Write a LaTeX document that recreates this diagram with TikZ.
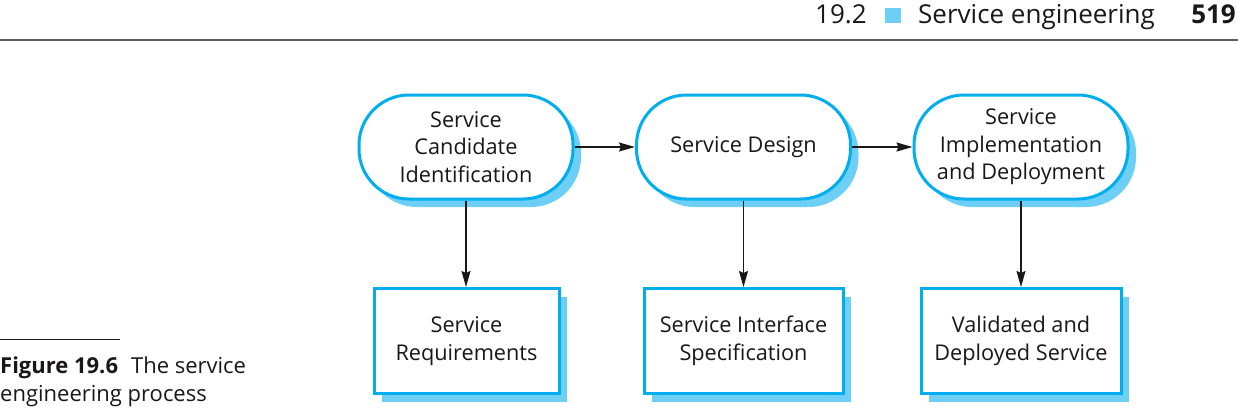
\documentclass[tikz,border=0pt]{standalone}
\usepackage{fontspec}
\setmainfont{Open Sans}
\usetikzlibrary{arrows.meta,shadows}
\definecolor{bordblue}{HTML}{00AEEF}
\definecolor{shadblue}{HTML}{6DCFF6}
\definecolor{ink}{HTML}{1A1718}
\definecolor{rulegray}{HTML}{5A5A5A}
\tikzset{
  x=1pt, y=-1pt,
  nodetext/.style={font=\fontsize{21.7}{27.5}\selectfont, text=ink, align=center, inner sep=0pt},
  stadium/.style={nodetext, draw=bordblue, line width=3pt, fill=white, rounded corners=50pt,
    minimum width=214pt, minimum height=104pt,
    drop shadow={shadow xshift=8pt, shadow yshift=-8pt, fill=shadblue, opacity=1}},
  docbox/.style={nodetext, draw=bordblue, line width=3pt, fill=white,
    minimum height=105pt,
    drop shadow={shadow xshift=8pt, shadow yshift=-8pt, fill=shadblue, opacity=1}},
  arr/.style={draw=ink, line width=1.4pt, -{Stealth[length=16pt,width=9pt,inset=2pt]}},
  hdr/.style={font=\fontsize{26}{30}\selectfont, text=ink, inner sep=0pt},
  captext/.style={font=\fontsize{22}{28}\selectfont, text=ink, inner sep=0pt}
}
\begin{document}
\begin{tikzpicture}
\useasboundingbox (0,0) rectangle (1238,410);
% header
\node[hdr, anchor=base west] (h1) at (815,23) {19.2};
\node[fill=shadblue, minimum width=16pt, minimum height=15pt, inner sep=0pt] (hsq) at (893,15) {};
\node[hdr, anchor=base west] (h2) at (918,23) {Service engineering};
\node[hdr, anchor=base east, font=\fontsize{26}{30}\selectfont\bfseries] (h3) at (1236,23) {519};
\coordinate (rl) at (0,40);
\coordinate (rr) at (1238,40);
\draw[rulegray, line width=2pt] (rl) -- (rr);
% caption
\coordinate (cl) at (0,339);
\coordinate (cr) at (120,339);
\draw[ink, line width=1pt] (cl) -- (cr);
\node[captext, anchor=base west] (c1) at (0,373) {\textbf{Figure 19.6}\hspace{13pt}The service};
\node[captext, anchor=base west] (c2) at (0,401) {engineering process};
% process nodes
\node[stadium] (n1) at (466,147) {Service\\Candidate\\Identification};
\node[stadium] (n2) at (743.5,147) {Service Design};
\node[stadium] (n3) at (1021,147) {Service\\Implementation\\and Deployment};
% outputs
\node[docbox, minimum width=185pt] (r1) at (466.5,341) {Service\\Requirements};
\node[docbox, minimum width=199pt] (r2) at (743.5,341) {Service Interface\\Specification};
\node[docbox, minimum width=200pt] (r3) at (1021,341) {Validated and\\Deployed Service};
% connectors
\draw[arr] (n1) -- (n2);
\draw[arr] (n2) -- (n3);
\draw[arr] (n1.south) -- (n1.south |- r1.north);
\draw[arr] (n2.south) -- (n2.south |- r2.north);
\draw[arr] (n3.south) -- (n3.south |- r3.north);
\end{tikzpicture}
\end{document}
